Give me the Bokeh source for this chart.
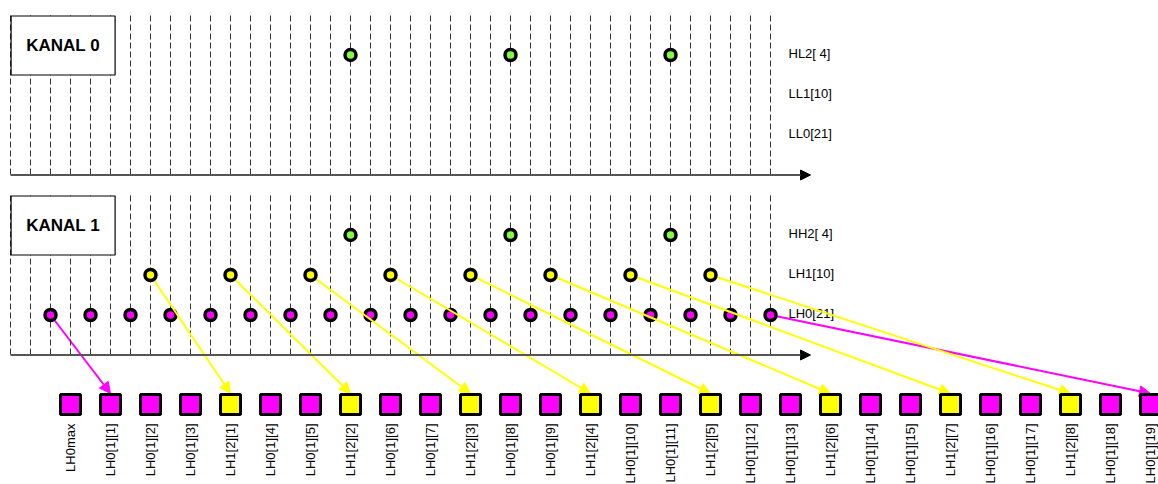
from bokeh.plotting import figure
from bokeh.models import Range1d, ColumnDataSource, Arrow, NormalHead
from bokeh.core.properties import value
from bokeh.embed import file_html
from bokeh.resources import INLINE
import math

# ---- data ----
n_slots = 39
slot_lines = list(range(0, 39))
green_slots = [17, 25, 33]
yellow_slots = [7, 11, 15, 19, 23, 27, 31, 35]
magenta_slots = [2, 4, 6, 8, 10, 12, 14, 16, 18, 20, 22, 24, 26, 28, 30, 32, 34, 36, 38]

panel_titles = ["KANAL 0", "KANAL 1"]
top_row_labels = ["HL2[ 4]", "LL1[10]", "LL0[21]"]
bottom_row_labels = ["HH2[ 4]", "LH1[10]", "LH0[21]"]

square_labels = ["LH0max", "LH0[1][1]", "LH0[1][2]", "LH0[1][3]", "LH1[2][1]",
                 "LH0[1][4]", "LH0[1][5]", "LH1[2][2]", "LH0[1][6]", "LH0[1][7]",
                 "LH1[2][3]", "LH0[1][8]", "LH0[1][9]", "LH1[2][4]", "LH0[1][10]",
                 "LH0[1][11]", "LH1[2][5]", "LH0[1][12]", "LH0[1][13]", "LH1[2][6]",
                 "LH0[1][14]", "LH0[1][15]", "LH1[2][7]", "LH0[1][16]", "LH0[1][17]",
                 "LH1[2][8]", "LH0[1][18]", "LH0[1][19]"]

magenta_arrow_from = [2, 38]
magenta_arrow_to = ["LH0[1][1]", "LH0[1][19]"]
yellow_arrow_from = [7, 11, 15, 19, 23, 27, 31, 35]
yellow_arrow_to = ["LH1[2][1]", "LH1[2][2]", "LH1[2][3]", "LH1[2][4]",
                   "LH1[2][5]", "LH1[2][6]", "LH1[2][7]", "LH1[2][8]"]

# ---- style / layout ----
MAG = "#ff00ff"
YEL = "#ffff00"
GRN = "#80ff40"
FONT = "Liberation Sans"
W, H = 1158, 484
X0, DX = 10.0, 20.0   # pixel position of slot 0, pixels per slot

sq_first, sq_step = 3, 2
sq_x = [sq_first + sq_step * i for i in range(len(square_labels))]
sq_pos = dict(zip(square_labels, sq_x))
sq_colors = [YEL if s.startswith("LH1") else MAG for s in square_labels]

panel_offsets = [0, 180]
panel_top = 15
axis_y = 174.5
row_y = [54.5, 94.5, 134.5]
sq_y = 404
sq_top = 393
label_top_y = 423
PT_SIZE, PT_LW = 11, 3.5

p = figure(width=W, height=H, output_backend="svg", toolbar_location=None,
           x_range=Range1d(-X0 / DX, (W - X0) / DX),
           y_range=Range1d(H, 0),
           x_axis_type=None, y_axis_type=None, min_border=0,
           outline_line_color=None)
p.background_fill_color = "white"

for k, off in enumerate(panel_offsets):
    # dashed time lines
    p.segment(x0=slot_lines, y0=[panel_top + off] * n_slots,
              x1=slot_lines, y1=[axis_y + off] * n_slots,
              line_color="#333333", line_width=1, line_dash="6 3")
    # axis with arrow
    p.add_layout(Arrow(x_start=0, y_start=axis_y + off, x_end=40, y_end=axis_y + off,
                       line_color="#555555", line_width=2,
                       end=NormalHead(size=10, fill_color="black", line_color="black",
                                      line_width=1)))
    # title box
    p.quad(left=0.03, right=5.23, top=panel_top + off + 0.5, bottom=74.5 + off,
           fill_color="white", line_color="black", line_width=1.2)
    p.text(x=[2.63], y=[44.5 + off], text=[panel_titles[k]],
           text_font=value(FONT), text_font_size="17px", text_font_style="bold",
           text_align="center", text_baseline="middle", text_color="black")
    labels = top_row_labels if k == 0 else bottom_row_labels
    p.text(x=[(788 - X0) / DX] * 3, y=[ry - 1.5 + off for ry in row_y], text=labels,
           text_font=value(FONT), text_font_size="13px",
           text_align="left", text_baseline="middle", text_color="black")

# green points (both panels)
p.scatter(x=green_slots, y=[row_y[0]] * len(green_slots), size=PT_SIZE,
          fill_color=GRN, line_color="black", line_width=PT_LW)
p.scatter(x=green_slots, y=[row_y[0] + 180] * len(green_slots), size=PT_SIZE,
          fill_color=GRN, line_color="black", line_width=PT_LW)

# magenta arrows (under points)
msrc = ColumnDataSource(dict(x0=magenta_arrow_from, y0=[row_y[2] + 180] * 2,
                             x1=[sq_pos[t] for t in magenta_arrow_to], y1=[sq_top] * 2))
p.add_layout(Arrow(source=msrc, x_start="x0", y_start="y0", x_end="x1", y_end="y1",
                   line_color=MAG, line_width=2, level="underlay",
                   end=NormalHead(size=11, fill_color=MAG, line_color=MAG, line_width=1)))

p.scatter(x=magenta_slots, y=[row_y[2] + 180] * len(magenta_slots), size=PT_SIZE,
          fill_color=MAG, line_color="black", line_width=PT_LW)

# yellow arrows: above magenta points, below yellow points
ysrc = ColumnDataSource(dict(x0=yellow_arrow_from, y0=[row_y[1] + 180] * len(yellow_arrow_from),
                             x1=[sq_pos[t] for t in yellow_arrow_to],
                             y1=[sq_top] * len(yellow_arrow_to)))
yarrow = Arrow(source=ysrc, x_start="x0", y_start="y0", x_end="x1", y_end="y1",
               line_color=YEL, line_width=2, level="glyph",
               end=NormalHead(size=11, fill_color=YEL, line_color=YEL, line_width=1))
p.renderers.append(yarrow)

p.scatter(x=yellow_slots, y=[row_y[1] + 180] * len(yellow_slots), size=PT_SIZE,
          fill_color=YEL, line_color="black", line_width=PT_LW)

# output squares
p.rect(x=sq_x, y=[sq_y] * len(sq_x), width=20, height=20,
       width_units="screen", height_units="screen",
       fill_color=sq_colors, line_color="black", line_width=3)
p.text(x=sq_x, y=[label_top_y] * len(sq_x), text=square_labels, angle=math.pi / 2,
       text_font=value(FONT), text_font_size="13px",
       text_align="right", text_baseline="middle", text_color="black")

open("out.html", "w").write(file_html(p, INLINE))
